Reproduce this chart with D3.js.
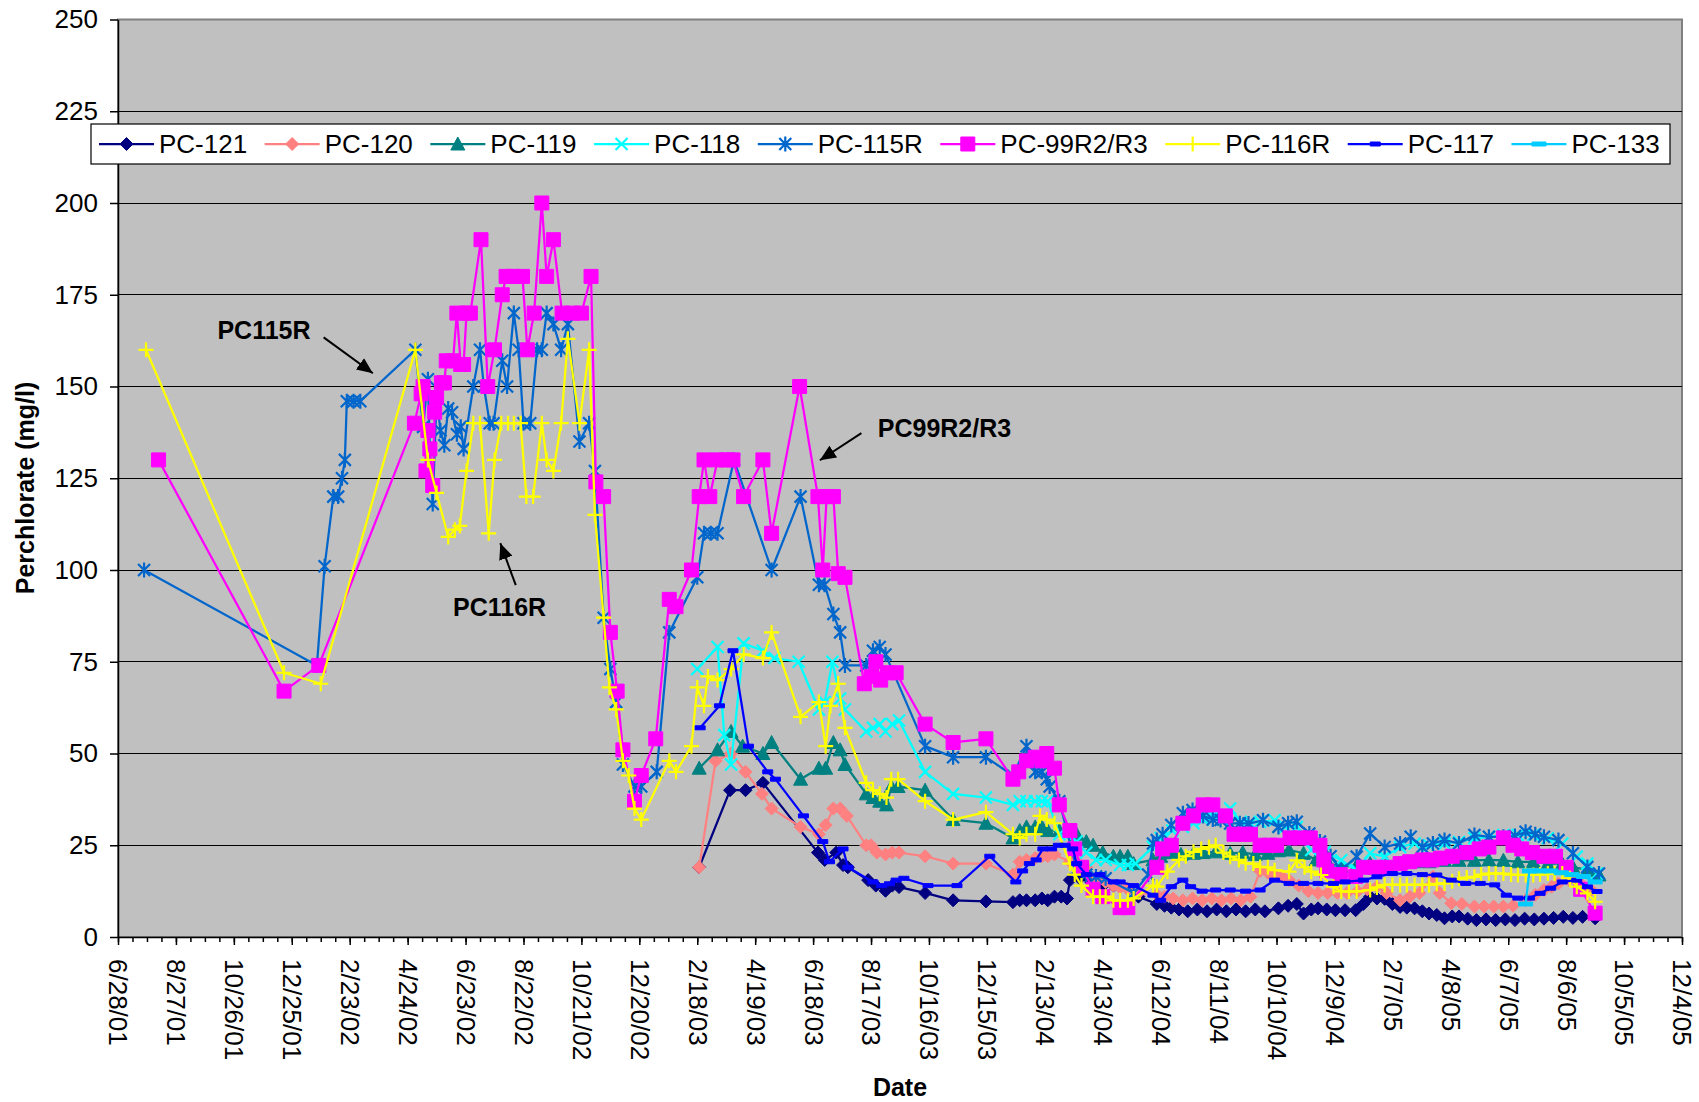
<!DOCTYPE html>
<html>
<head>
<meta charset="utf-8">
<script src="https://cdn.jsdelivr.net/npm/d3@7"></script>
<style>
  body { margin: 0; background: #fff; }
  text { font-family: "Liberation Sans", Arial, sans-serif; }
</style>
</head>
<body>
<div id="chart"></div>
<script>
var W = 1699, H = 1102;

// ---- data (dates m/d/yy, perchlorate mg/l) ----
var pc121 = [["2/20/03",19],["3/24/03",40],["4/9/03",40],["4/27/03",42],["6/23/03",23],["6/30/03",21],["7/12/03",23],["7/19/03",19.6],["7/24/03",19],["8/14/03",15.5],["8/22/03",14],["9/1/03",12.6],["9/8/03",14],["9/15/03",13.6],["10/12/03",12],["11/10/03",10],["12/14/03",9.7],["1/11/04",9.5],["1/18/04",10],["1/25/04",10],["2/3/04",10],["2/10/04",10.5],["2/16/04",10],["2/23/04",11],["3/1/04",11],["3/7/04",10.5],["3/10/04",15.5],["3/20/04",16],["4/1/04",15],["4/13/04",14],["4/24/04",14],["5/9/04",13],["5/20/04",11],["6/8/04",9],["6/16/04",8.5],["6/23/04",8],["7/1/04",7.5],["7/10/04",7],["7/20/04",7.5],["7/30/04",7],["8/9/04",7.5],["8/19/04",7],["8/29/04",7.5],["9/8/04",7],["9/18/04",7.5],["9/28/04",7],["10/12/04",7.8],["10/22/04",8.5],["10/31/04",9],["11/7/04",6.4],["11/15/04",7.5],["11/22/04",7.8],["12/1/04",7.5],["12/10/04",7.3],["12/20/04",7.3],["12/31/04",7.3],["1/8/05",9],["1/15/05",11],["1/22/05",10.5],["1/30/05",10.4],["2/7/05",9],["2/15/05",8.2],["2/22/05",8],["3/2/05",7.8],["3/10/05",7],["3/17/05",6.4],["3/25/05",6],["4/2/05",5.1],["4/10/05",5.6],["4/17/05",5.6],["4/26/05",5],["5/5/05",4.6],["5/15/05",4.8],["5/25/05",4.6],["6/4/05",4.8],["6/14/05",4.6],["6/24/05",5],["7/4/05",4.8],["7/14/05",5],["7/24/05",5.2],["8/3/05",5.5],["8/13/05",5.2],["8/23/05",5.5],["9/5/05",5.1]];

var pc120 = [["2/20/03",19],["3/9/03",48],["3/25/03",50],["4/9/03",45],["4/26/03",39],["5/6/03",35],["6/5/03",30],["6/24/03",28],["7/1/03",30.5],["7/9/03",35],["7/16/03",35],["7/23/03",33],["8/12/03",25],["8/17/03",25],["8/23/03",23],["9/1/03",22.5],["9/8/03",23],["9/15/03",23],["10/12/03",22],["11/10/03",20],["12/14/03",20],["1/11/04",17],["1/18/04",20.5],["1/25/04",21],["2/3/04",21.5],["2/10/04",22],["2/16/04",22],["2/23/04",22.5],["3/10/04",20.5],["3/15/04",21],["3/27/04",19],["4/6/04",16],["4/16/04",15],["4/24/04",14],["5/1/04",13.5],["5/9/04",13],["5/20/04",12],["6/8/04",11.5],["6/16/04",11],["6/25/04",10.5],["7/5/04",10],["7/15/04",10.5],["7/25/04",10],["8/4/04",10.5],["8/14/04",10],["8/24/04",10.5],["9/3/04",10],["9/13/04",11],["9/23/04",18],["10/1/04",17.5],["10/8/04",17],["10/16/04",16.5],["10/23/04",15.5],["11/2/04",14],["11/12/04",12.5],["11/22/04",12],["12/2/04",12],["12/12/04",12],["12/22/04",12],["1/2/05",12.5],["1/12/05",13],["1/22/05",13.7],["2/1/05",12],["2/15/05",10],["2/25/05",11],["3/7/05",12],["3/21/05",16.4],["3/28/05",12],["4/9/05",9.2],["4/20/05",9],["5/3/05",8.3],["5/13/05",8.3],["5/23/05",8.3],["6/2/05",8.3],["6/12/05",8.5],["6/25/05",10],["7/5/05",11.5],["7/14/05",12.8],["7/22/05",13.7],["7/29/05",14.6],["8/9/05",15.5],["8/21/05",14.6],["9/1/05",12.8]];

var pc119 = [["2/20/03",46],["3/11/03",51],["3/25/03",56],["4/6/03",52],["4/27/03",50],["5/6/03",53],["6/5/03",43],["6/24/03",46],["7/1/03",46],["7/9/03",53],["7/16/03",51],["7/21/03",47],["8/12/03",39],["8/19/03",38],["8/26/03",37],["9/2/03",36],["9/7/03",41],["9/14/03",41],["10/12/03",40],["11/10/03",32],["12/14/03",31],["1/11/04",27],["1/18/04",29],["1/25/04",30],["2/3/04",30],["2/10/04",30],["2/16/04",29],["2/28/04",29],["3/17/04",28],["3/27/04",26],["4/3/04",25],["4/13/04",23],["4/24/04",22],["5/1/04",22],["5/9/04",22],["5/15/04",20],["6/4/04",21],["6/12/04",22],["6/23/04",23],["7/3/04",22.5],["7/16/04",22.8],["7/26/04",23],["8/8/04",23.2],["8/23/04",22.8],["9/5/04",23],["9/18/04",22.5],["10/1/04",22.8],["10/12/04",23.5],["10/23/04",23.7],["11/7/04",22.8],["11/20/04",21],["12/3/04",20],["12/16/04",19.1],["1/1/05",19.5],["1/15/05",20],["2/1/05",20],["2/15/05",20],["3/2/05",20.5],["3/17/05",20.5],["4/2/05",20.9],["4/17/05",20.9],["5/3/05",20.9],["5/18/05",21],["6/2/05",20.9],["6/17/05",20.5],["7/3/05",20.5],["7/18/05",20],["8/2/05",20],["8/13/05",19.1],["8/28/05",18.2],["9/9/05",16.9]];

var pc118 = [["2/18/03",73],["3/11/03",79],["3/18/03",55],["3/25/03",47],["4/7/03",80],["4/27/03",78],["5/9/03",76],["6/3/03",75],["6/24/03",62],["6/30/03",64],["7/8/03",75],["7/16/03",65],["7/21/03",62],["8/12/03",56],["8/19/03",57],["8/26/03",58],["9/1/03",56],["9/8/03",58],["9/15/03",59],["10/12/03",45],["11/10/03",39],["12/14/03",38],["1/11/04",36],["1/18/04",37],["1/25/04",37],["2/3/04",37],["2/10/04",37],["2/16/04",37],["2/28/04",28],["3/17/04",26],["3/27/04",23],["4/6/04",21],["4/16/04",21],["5/1/04",19.6],["5/9/04",19.6],["5/17/04",20],["6/4/04",24.6],["6/12/04",27],["6/24/04",29],["7/5/04",30],["7/16/04",31],["7/26/04",32],["8/5/04",33],["8/15/04",32],["8/23/04",35],["9/3/04",31.4],["9/13/04",31],["9/23/04",31.4],["10/8/04",31.8],["10/19/04",30],["10/31/04",30],["11/15/04",23.7],["11/29/04",23.2],["12/16/04",20.9],["1/1/05",18.2],["1/15/05",22.8],["1/30/05",21.9],["2/15/05",24.5],["3/2/05",25.5],["3/17/05",25],["4/2/05",25.5],["4/17/05",25.9],["5/3/05",26.9],["5/18/05",27.3],["6/2/05",27.8],["6/17/05",27.8],["7/3/05",27.8],["7/18/05",26.9],["8/2/05",25.5],["8/17/05",21.9],["8/28/05",20],["9/7/05",17.3]];

var pc115r = [["7/25/01",100],["1/20/02",74],["1/28/02",101],["2/6/02",120],["2/11/02",120],["2/15/02",125],["2/18/02",130],["2/20/02",146],["2/27/02",146],["3/6/02",146],["5/2/02",160],["5/10/02",139],["5/15/02",152],["5/17/02",133],["5/20/02",118],["5/24/02",147],["5/28/02",138],["6/1/02",134],["6/5/02",144],["6/9/02",143],["6/14/02",137],["6/18/02",139],["6/21/02",133],["7/1/02",150],["7/8/02",160],["7/12/02",150],["7/18/02",140],["7/22/02",140],["7/31/02",157],["8/5/02",150],["8/12/02",170],["8/17/02",160],["8/22/02",140],["8/29/02",140],["9/5/02",160],["9/10/02",160],["9/15/02",170],["9/22/02",167],["9/30/02",160],["10/7/02",167],["10/19/02",135],["10/29/02",140],["11/4/02",127],["11/13/02",87],["11/20/02",73],["11/26/02",64],["12/3/02",47],["12/15/02",41],["12/22/02",41],["1/7/03",45],["1/20/03",83],["2/18/03",98],["2/25/03",110],["3/4/03",110],["3/11/03",110],["3/28/03",130],["5/6/03",100],["6/5/03",120],["6/24/03",96],["6/30/03",96],["7/9/03",88],["7/16/03",83],["7/21/03",74],["8/12/03",74],["8/19/03",78],["8/26/03",79],["9/1/03",77],["10/12/03",52],["11/10/03",49],["12/14/03",49],["1/11/04",44],["1/25/04",52],["2/3/04",45],["2/10/04",45],["2/15/04",43],["2/18/04",41],["2/28/04",37],["3/17/04",18.5],["3/27/04",17],["4/6/04",16.5],["4/16/04",16],["5/15/04",12],["5/30/04",17],["6/4/04",25.5],["6/8/04",26.4],["6/14/04",28],["6/23/04",30.5],["7/5/04",33.7],["7/15/04",34.6],["7/26/04",33],["8/5/04",32],["8/13/04",31.9],["8/23/04",30.9],["9/2/04",31],["9/11/04",30.9],["9/26/04",31.8],["10/12/04",30],["10/22/04",31],["10/31/04",31.4],["11/13/04",28.2],["11/24/04",26],["12/5/04",22],["12/16/04",18.2],["1/1/05",21.9],["1/15/05",28.2],["1/30/05",24.5],["2/15/05",25.5],["2/26/05",27.3],["3/10/05",24.5],["3/21/05",25.5],["4/2/05",26.4],["4/17/05",25.5],["5/3/05",27.8],["5/18/05",27.3],["6/2/05",27.3],["6/14/05",27.5],["6/25/05",28.7],["7/5/05",28],["7/14/05",27.3],["7/29/05",26.4],["8/13/05",22.8],["8/28/05",19.1],["9/9/05",17.3]];

var pc99 = [["8/9/01",130],["12/17/01",67],["1/22/02",74],["5/1/02",140],["5/8/02",148],["5/10/02",150],["5/13/02",127],["5/15/02",138],["5/17/02",133],["5/20/02",123],["5/22/02",143],["5/24/02",147],["5/29/02",151],["6/1/02",151],["6/3/02",157],["6/10/02",157],["6/14/02",170],["6/18/02",156],["6/21/02",156],["6/24/02",170],["6/28/02",170],["7/9/02",190],["7/16/02",150],["7/23/02",160],["7/31/02",175],["8/4/02",180],["8/11/02",180],["8/21/02",180],["8/26/02",160],["9/2/02",170],["9/10/02",200],["9/15/02",180],["9/22/02",190],["10/1/02",170],["10/12/02",170],["10/21/02",170],["10/31/02",180],["11/5/02",124],["11/13/02",120],["11/20/02",83],["11/27/02",67],["12/3/02",51],["12/15/02",37],["12/22/02",44],["1/6/03",54],["1/20/03",92],["1/27/03",90],["2/12/03",100],["2/20/03",120],["2/25/03",130],["3/3/03",120],["3/11/03",130],["3/20/03",130],["3/27/03",130],["4/7/03",120],["4/27/03",130],["5/6/03",110],["6/4/03",150],["6/23/03",120],["6/28/03",100],["7/2/03",120],["7/9/03",120],["7/14/03",99],["7/21/03",98],["8/10/03",69],["8/17/03",71],["8/22/03",75],["8/27/03",70],["9/3/03",72],["9/12/03",72],["10/12/03",58],["11/10/03",53],["12/14/03",54],["1/11/04",43],["1/17/04",45],["1/25/04",48],["2/3/04",49],["2/10/04",48],["2/15/04",50],["2/23/04",46],["2/28/04",36],["3/10/04",29],["3/15/04",24],["3/22/04",19],["4/3/04",13],["4/13/04",11],["5/1/04",8],["5/9/04",8],["6/8/04",19],["6/14/04",24],["6/23/04",25],["7/5/04",31],["7/16/04",33],["7/26/04",36],["8/5/04",36],["8/18/04",33],["8/27/04",28],["9/6/04",28],["9/13/04",28],["9/23/04",25],["10/3/04",25],["10/10/04",25],["10/24/04",27],["11/3/04",27],["11/14/04",27],["11/24/04",25],["11/28/04",21],["12/1/04",18],["12/15/04",17],["12/31/04",16.5],["1/8/05",19],["1/20/05",19],["1/31/05",19],["2/15/05",20],["2/25/05",20.5],["3/10/05",21],["3/20/05",21],["3/29/05",21.5],["4/10/05",22],["4/25/05",23],["5/8/05",24],["5/18/05",24.5],["6/2/05",27],["6/12/05",25],["6/21/05",24],["7/2/05",23],["7/14/05",22],["7/26/05",22],["8/6/05",19],["8/21/05",13],["9/5/05",6.5]];

var pc116r = [["7/27/01",160],["12/17/01",72],["1/24/02",69],["5/2/02",160],["5/15/02",130],["5/24/02",121],["6/5/02",109],["6/12/02",111],["6/17/02",112],["6/24/02",127],["7/1/02",140],["7/8/02",140],["7/17/02",110],["7/23/02",130],["7/30/02",140],["8/6/02",140],["8/12/02",140],["8/19/02",140],["8/25/02",120],["9/1/02",120],["9/10/02",140],["9/15/02",130],["9/22/02",127],["9/30/02",140],["10/7/02",163],["10/19/02",140],["10/29/02",160],["11/4/02",115],["11/13/02",87],["11/19/02",68],["11/26/02",62],["12/3/02",48],["12/9/02",44],["12/15/02",35],["12/22/02",32],["1/20/03",48],["1/27/03",45],["2/12/03",52],["2/18/03",68],["2/25/03",63],["3/1/03",71],["3/11/03",70],["3/25/03",73],["4/7/03",77],["4/27/03",76],["5/6/03",83],["6/5/03",60],["6/24/03",64],["7/1/03",52],["7/6/03",63],["7/14/03",69],["7/21/03",57],["8/12/03",42],["8/19/03",40],["8/26/03",39],["9/2/03",38],["9/7/03",43],["9/14/03",43],["10/12/03",37],["11/10/03",32],["12/14/03",34],["1/11/04",28],["1/18/04",27],["1/25/04",28],["2/3/04",28],["2/8/04",33],["2/15/04",32],["2/23/04",31],["3/10/04",20],["3/15/04",17],["3/22/04",14],["4/3/04",11],["4/10/04",11],["4/16/04",11],["4/24/04",10],["5/1/04",10],["5/9/04",10],["5/15/04",10.5],["6/4/04",14],["6/8/04",13.7],["6/19/04",17.8],["7/1/04",21],["7/8/04",22],["7/16/04",23.2],["7/24/04",24],["8/1/04",24.5],["8/8/04",25],["8/16/04",23],["8/23/04",21.9],["9/1/04",21],["9/8/04",20.1],["9/16/04",20],["9/23/04",19.1],["10/1/04",19],["10/8/04",18.2],["10/23/04",17.8],["10/31/04",20.9],["11/8/04",19],["11/15/04",17.8],["11/25/04",16.9],["12/8/04",13.7],["12/16/04",12.4],["12/24/04",12.4],["1/1/05",12.4],["1/15/05",12.8],["1/22/05",13.5],["1/30/05",14.2],["2/7/05",14.2],["2/15/05",14.2],["2/22/05",14.2],["3/2/05",14.2],["3/10/05",14.2],["3/17/05",14.2],["3/25/05",14.5],["4/2/05",14.6],["4/10/05",15.2],["4/17/05",15.9],["4/25/05",16.2],["5/3/05",16.4],["5/10/05",17],["5/18/05",17.3],["5/25/05",17.3],["6/2/05",17.3],["6/10/05",17],["6/17/05",16.9],["6/25/05",16.9],["7/3/05",16.9],["7/10/05",17],["7/18/05",17.3],["7/25/05",17.3],["8/2/05",17.3],["8/10/05",16],["8/17/05",13.7],["8/28/05",11.9],["9/5/05",9.6]];

var pc117 = [["2/21/03",57],["3/13/03",63],["3/27/03",78],["4/12/03",52],["5/2/03",45],["5/10/03",43],["6/8/03",33],["6/28/03",26],["7/5/03",20.5],["7/19/03",24],["7/24/03",19],["8/19/03",15],["8/28/03",14],["9/5/03",14.5],["9/12/03",15.5],["9/20/03",16],["10/15/03",14],["11/14/03",14],["12/18/03",22],["1/14/04",15],["1/21/04",18],["1/28/04",20],["2/4/04",21],["2/11/04",24],["2/20/04",24],["2/27/04",25],["3/5/04",25],["3/13/04",24],["3/17/04",20],["3/27/04",17],["4/10/04",17],["4/24/04",15],["5/1/04",15],["5/15/04",14],["6/4/04",11.4],["6/12/04",10],["6/23/04",13.7],["7/5/04",15.5],["7/13/04",13.7],["7/25/04",12.5],["8/8/04",12.8],["8/23/04",12.8],["9/8/04",12.5],["9/23/04",12.8],["10/8/04",15.5],["10/23/04",14.6],["11/7/04",14.6],["11/22/04",14.6],["12/8/04",14.6],["12/20/04",15],["1/8/05",15.5],["1/22/05",16.4],["2/7/05",17.3],["2/22/05",17.3],["3/10/05",17],["3/25/05",16.9],["4/9/05",15.5],["4/24/05",14.6],["5/9/05",14.6],["5/24/05",14.2],["6/5/05",11.4],["6/17/05",10.6],["6/29/05",10.6],["7/10/05",11.9],["7/21/05",13.3],["8/2/05",15],["8/17/05",15.5],["8/28/05",13.7],["9/7/05",12.4]];

var pc133 = [["6/25/05",9],["6/29/05",18],["7/9/05",18],["7/21/05",18],["8/1/05",17.5],["8/12/05",17],["8/24/05",16.5],["9/5/05",15]];

var seriesNames = ["PC-121", "PC-120", "PC-119", "PC-118", "PC-115R", "PC-99R2/R3", "PC-116R", "PC-117", "PC-133"];
var seriesData = [pc121, pc120, pc119, pc118, pc115r, pc99, pc116r, pc117, pc133];

var xTickLabels = ["6/28/01","8/27/01","10/26/01","12/25/01","2/23/02","4/24/02","6/23/02","8/22/02","10/21/02","12/20/02","2/18/03","4/19/03","6/18/03","8/17/03","10/16/03","12/15/03","2/13/04","4/13/04","6/12/04","8/11/04","10/10/04","12/9/04","2/7/05","4/8/05","6/7/05","8/6/05","10/5/05","12/4/05"];
var yTicks = [0, 25, 50, 75, 100, 125, 150, 175, 200, 225, 250];

// callouts: text anchor and arrow from/to, in data units
var notes = [
    { text: "PC115R",    at: ["10/9/01", 162.9], from: ["1/27/02", 163.4], to: ["3/19/02", 153.6] },
    { text: "PC116R",    at: ["6/10/02", 87.4],  from: ["8/14/02", 95.9],  to: ["7/29/02", 107.3] },
    { text: "PC99R2/R3", at: ["8/24/03", 136.2], from: ["8/7/03", 137.3],  to: ["6/25/03", 129.9] }
];

// ---- styles ----
var styles = [
    { color: "#000080", marker: "diamond" },
    { color: "#FF8080", marker: "diamond" },
    { color: "#008080", marker: "triangle" },
    { color: "#00FFFF", marker: "x" },
    { color: "#0066CC", marker: "star" },
    { color: "#FF00FF", marker: "square" },
    { color: "#FFFF00", marker: "plus" },
    { color: "#0000FF", marker: "dash" },
    { color: "#00CCFF", marker: "longdash" }
];

var parse = d3.utcParse("%m/%d/%y");

var m = { left: 118, right: 1682, top: 19.5, bottom: 937 };

var x = d3.scaleUtc()
    .domain([parse(xTickLabels[0]), parse(xTickLabels[xTickLabels.length - 1])])
    .range([m.left, m.right]);
var y = d3.scaleLinear().domain([0, 250]).range([m.bottom, m.top]);

var svg = d3.select('#chart')
    .append('svg')
    .attr('width', W)
    .attr('height', H);

svg.append('defs').append('marker')
    .attr('id', 'arrow')
    .attr('markerUnits', 'userSpaceOnUse')
    .attr('markerWidth', 18).attr('markerHeight', 14)
    .attr('refX', 16).attr('refY', 7)
    .attr('orient', 'auto')
    .append('path')
    .attr('d', 'M0,0 L16,7 L0,14 Z')
    .attr('fill', '#000');

// plot area
svg.append('rect')
    .attr('x', m.left).attr('y', m.top)
    .attr('width', m.right - m.left).attr('height', m.bottom - m.top)
    .attr('fill', '#C0C0C0')
    .attr('stroke', '#808080')
    .attr('stroke-width', 2);

// gridlines
svg.append('g').selectAll('line')
    .data(yTicks.filter(function(v) { return v > 0 && v < 250; }))
    .enter().append('line')
    .attr('x1', m.left).attr('x2', m.right)
    .attr('y1', function(d) { return y(d); })
    .attr('y2', function(d) { return y(d); })
    .attr('stroke', '#000')
    .attr('stroke-width', 1)
    .attr('shape-rendering', 'crispEdges');

// y axis
var yAxis = svg.append('g')
    .attr('transform', 'translate(' + m.left + ',0)')
    .call(d3.axisLeft(y).tickValues(yTicks).tickSize(8).tickPadding(12).tickSizeOuter(0));
yAxis.select('.domain').attr('stroke', '#000').attr('stroke-width', 1.5);
yAxis.selectAll('.tick line').attr('stroke', '#000').attr('stroke-width', 1.5);
yAxis.selectAll('text').attr('font-size', 26).attr('fill', '#000')
    .attr('font-family', '"Liberation Sans", Arial, sans-serif');

// x axis: minor ticks every 15 days, major every 60
var start = parse(xTickLabels[0]);
var minorDates = d3.range(0, 1621, 15).map(function(d) { return d3.utcDay.offset(start, d); });
var xMinor = svg.append('g')
    .attr('transform', 'translate(0,' + m.bottom + ')')
    .call(d3.axisBottom(x).tickValues(minorDates).tickSize(5).tickFormat('').tickSizeOuter(0));
xMinor.select('.domain').remove();
xMinor.selectAll('.tick line').attr('stroke', '#000').attr('stroke-width', 1.5);

var xAxis = svg.append('g')
    .attr('transform', 'translate(0,' + m.bottom + ')')
    .call(d3.axisBottom(x)
        .tickValues(xTickLabels.map(parse))
        .tickFormat(function(d, i) { return xTickLabels[i]; })
        .tickSize(8).tickSizeOuter(0));
xAxis.select('.domain').attr('stroke', '#000').attr('stroke-width', 1.5);
xAxis.selectAll('.tick line').attr('stroke', '#000').attr('stroke-width', 1.5);
xAxis.selectAll('text')
    .attr('font-size', 26).attr('fill', '#000')
    .attr('font-family', '"Liberation Sans", Arial, sans-serif')
    .attr('transform', 'rotate(90)')
    .attr('text-anchor', 'start')
    .attr('x', 22).attr('y', 0).attr('dy', '0.35em');

// markers
function markerPath(type) {
    switch (type) {
        case 'diamond':  return 'M0,-6.5L6.5,0L0,6.5L-6.5,0Z';
        case 'triangle': return 'M0,-7L7,6L-7,6Z';
        case 'square':   return 'M-7,-7H7V7H-7Z';
        case 'dash':     return 'M-5,-2H5V2H-5Z';
        case 'longdash': return 'M-7,-2H7V2H-7Z';
        case 'x':        return 'M-6,-6L6,6M-6,6L6,-6';
        case 'star':     return 'M-6,-6L6,6M-6,6L6,-6M0,-7.5L0,7.5';
        case 'plus':     return 'M-7.5,0L7.5,0M0,-7.5L0,7.5';
    }
}
function isStroked(type) {
    return type === 'x' || type === 'star' || type === 'plus';
}
function drawMarker(sel, st) {
    sel.append('path')
        .attr('d', markerPath(st.marker))
        .attr('fill', isStroked(st.marker) ? 'none' : st.color)
        .attr('stroke', st.color)
        .attr('stroke-width', isStroked(st.marker) ? 2.2 : 1);
}

var line = d3.line()
    .x(function(d) { return x(parse(d[0])); })
    .y(function(d) { return y(d[1]); });

var plot = svg.append('g');
seriesData.forEach(function(data, i) {
    var st = styles[i];
    var g = plot.append('g').attr('class', 'series');
    g.append('path')
        .datum(data)
        .attr('d', line)
        .attr('fill', 'none')
        .attr('stroke', st.color)
        .attr('stroke-width', 2.25)
        .attr('stroke-linejoin', 'round');
    g.selectAll('.pt')
        .data(data)
        .enter().append('g')
        .attr('class', 'pt')
        .attr('transform', function(d) {
            return 'translate(' + x(parse(d[0])) + ',' + y(d[1]) + ')';
        })
        .each(function() { drawMarker(d3.select(this), st); });
});

// callouts
notes.forEach(function(n) {
    svg.append('line')
        .attr('x1', x(parse(n.from[0]))).attr('y1', y(n.from[1]))
        .attr('x2', x(parse(n.to[0]))).attr('y2', y(n.to[1]))
        .attr('stroke', '#000').attr('stroke-width', 2)
        .attr('marker-end', 'url(#arrow)');
    svg.append('text')
        .attr('x', x(parse(n.at[0]))).attr('y', y(n.at[1]))
        .attr('font-size', 25).attr('font-weight', 'bold')
        .text(n.text);
});

// legend
var legend = svg.append('g');
legend.append('rect')
    .attr('x', 91).attr('y', 124).attr('width', 1579).attr('height', 40)
    .attr('fill', '#fff').attr('stroke', '#000').attr('stroke-width', 1.2);
var lx = 99;
seriesNames.forEach(function(name, i) {
    var st = styles[i];
    var item = legend.append('g').attr('transform', 'translate(' + lx + ',144)');
    item.append('line')
        .attr('x1', 0).attr('x2', 55)
        .attr('stroke', st.color).attr('stroke-width', 2.25);
    drawMarker(item.append('g').attr('transform', 'translate(27.5,0)'), st);
    var t = item.append('text')
        .attr('x', 60).attr('dy', '0.35em')
        .attr('font-size', 26)
        .text(name);
    lx += 60 + t.node().getComputedTextLength() + 17.5;
});

// axis titles
svg.append('text')
    .attr('transform', 'translate(25,488) rotate(-90)')
    .attr('text-anchor', 'middle')
    .attr('dy', '0.35em')
    .attr('font-size', 25).attr('font-weight', 'bold')
    .text('Perchlorate (mg/l)');
svg.append('text')
    .attr('x', 900).attr('y', 1096)
    .attr('text-anchor', 'middle')
    .attr('font-size', 25).attr('font-weight', 'bold')
    .text('Date');
</script>
</body>
</html>
